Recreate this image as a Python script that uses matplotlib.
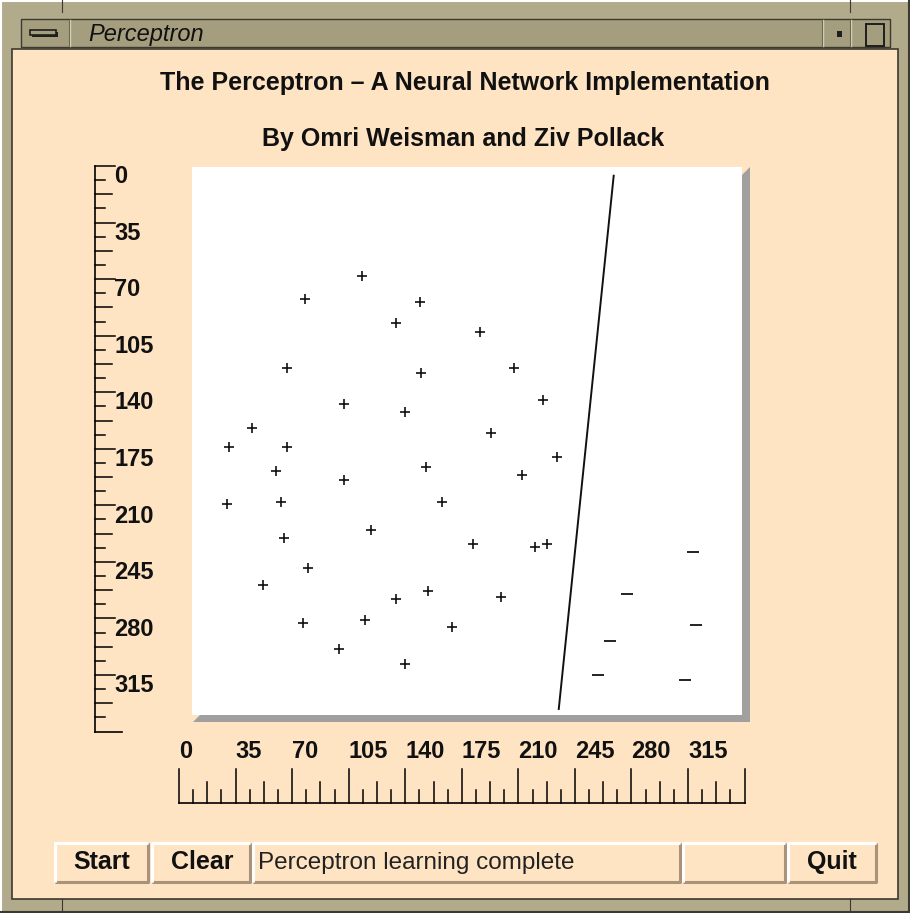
import matplotlib
matplotlib.use("Agg")
import matplotlib.pyplot as plt
from matplotlib.patches import Rectangle, Polygon

# --- data (ruler units, y grows downward like the canvas) ---
plus_x = [113, 78, 149, 134, 186, 67, 150, 207, 102, 140, 225, 45, 193,
          31, 67, 234, 60, 153, 102, 212, 30, 63, 163, 119, 65, 182, 220,
          228, 80, 52, 154, 134, 199, 77, 115, 169, 99, 140]
plus_y = [68, 82, 84, 97, 103, 125, 128, 125, 147, 152, 145, 162, 165,
          174, 174, 180, 189, 186, 194, 191, 209, 208, 208, 225, 230, 234,
          236, 234, 249, 259, 263, 268, 267, 283, 281, 285, 299, 308]
minus_x = [318, 277, 320, 267, 259, 313]
minus_y = [239, 265, 284, 294, 315, 318]
line_x = [269, 235]
line_y = [6, 336]

ruler_max = 350
major_step = 35
minor_step = 8.75
tick_labels = [str(v) for v in range(0, 350, 35)]

title = "The Perceptron \u2013 A Neural Network Implementation"
subtitle = "By Omri Weisman and Ziv Pollack"
window_title = "Perceptron"
status_text = "Perceptron learning complete"

PEACH = "#ffe4c4"
FRAME = "#b1aa8b"
TITLEBAR = "#a59e7e"
DARK = "#3c3a30"
SHADOW = "#a0a0a0"
BEVEL_DARK = "#a8927a"
INK = "#111111"
FONT = "Liberation Sans"

W, H = 910, 913
fig = plt.figure(figsize=(W / 100, H / 100), dpi=100, facecolor=FRAME)

# background axes in pixel coordinates for the window chrome
bg = fig.add_axes([0, 0, 1, 1])
bg.set_xlim(0, W)
bg.set_ylim(H, 0)
bg.axis("off")

# outer frame highlight / shadow
bg.plot([1, W - 1], [1, 1], color="white", lw=1.5)
bg.plot([1, 1], [1, H - 1], color="white", lw=1.5)
bg.plot([W - 1, W - 1], [1, H - 1], color=DARK, lw=1.5)
bg.plot([1, W - 1], [H - 1, H - 1], color=DARK, lw=1.5)
for xd in (62, 850):
    bg.plot([xd, xd], [0, 12], color=DARK, lw=0.8)
    bg.plot([xd, xd], [899, H], color=DARK, lw=0.8)

# title bar
bg.add_patch(Rectangle((21, 19), 869, 28, facecolor=TITLEBAR, edgecolor=DARK, lw=1))
for xd in (70, 823, 851):
    bg.plot([xd, xd], [20, 46], color="#d8d2b8", lw=1.0)
    bg.plot([xd - 1, xd - 1], [20, 46], color="#6e6850", lw=0.8)
bg.add_patch(Rectangle((32, 32), 26, 5, facecolor="#1e1e1e"))
bg.add_patch(Rectangle((30, 30), 26, 5, facecolor=TITLEBAR, edgecolor="#1e1e1e", lw=1.2))
bg.add_patch(Rectangle((837, 31), 5, 6, facecolor="#1e1e1e"))
bg.add_patch(Rectangle((866, 24), 18, 22, facecolor=TITLEBAR, edgecolor="#1e1e1e", lw=1.4))
bg.text(88, 34, window_title, fontsize=17, style="italic", family=FONT,
        ha="left", va="center", color=INK)

# client area
bg.add_patch(Rectangle((12, 49), 886, 850, facecolor=PEACH, edgecolor=DARK, lw=1.2))

bg.text(465, 83, title, fontsize=18, weight="bold", family=FONT,
        ha="center", va="center", color=INK)
bg.text(463, 139, subtitle, fontsize=18, weight="bold", family=FONT,
        ha="center", va="center", color=INK)


def bevel(x0, y0, x1, y1):
    bg.add_patch(Rectangle((x0, y0), x1 - x0, y1 - y0, facecolor=PEACH, lw=0))
    bg.plot([x0, x1, x1], [y1, y1, y0], color=BEVEL_DARK, lw=2.2, solid_capstyle="butt")
    bg.plot([x0, x0, x1], [y1, y0, y0], color="white", lw=2.2, solid_capstyle="butt")


bevel(55, 843, 148, 882)
bevel(152, 843, 250, 882)
bevel(253, 843, 680, 882)
bevel(683, 843, 785, 882)
bevel(788, 843, 876, 882)
btn_font = dict(fontsize=18, weight="bold", family=FONT, va="center", color=INK)
bg.text(102, 862, "Start", ha="center", **btn_font)
bg.text(202, 862, "Clear", ha="center", **btn_font)
bg.text(832, 862, "Quit", ha="center", **btn_font)
bg.text(258, 863, status_text, fontsize=17.5, family=FONT,
        ha="left", va="center", color="#222222")

# plot axes: ruler units mapped onto the canvas
px0, py0, scale = 179, 166, 1.616
ax = fig.add_axes([px0 / W, 1 - (py0 + ruler_max * scale) / H,
                   ruler_max * scale / W, ruler_max * scale / H])
ax.set_xlim(0, ruler_max)
ax.set_ylim(ruler_max, 0)
ax.axis("off")


def u(px, origin):
    return (px - origin) / scale


# canvas with 3d shadow
ax.add_patch(Polygon([(u(742, px0), u(175, py0)), (u(750, px0), u(167, py0)),
                      (u(750, px0), u(722, py0)), (u(193, px0), u(722, py0)),
                      (u(200, px0), u(715, py0)), (u(742, px0), u(715, py0))],
                     closed=True, facecolor=SHADOW, lw=0, clip_on=False))
ax.add_patch(Rectangle((u(192, px0), u(167, py0)), u(742, px0) - u(192, px0),
                       u(715, py0) - u(167, py0), facecolor="white", lw=0, clip_on=False))

ax.plot(plus_x, plus_y, linestyle="none", marker="+", markersize=7.5, mew=1.2,
        color=INK, clip_on=False)
ax.plot(minus_x, minus_y, linestyle="none", marker="_", markersize=8, mew=1.3,
        color=INK, clip_on=False)
ax.plot(line_x, line_y, color=INK, lw=1.4, clip_on=False)

# rulers
n_ticks = int(ruler_max / minor_step) + 1
vx0 = u(95, px0)
ax.plot([vx0, vx0], [0, ruler_max], color="black", lw=1.2, clip_on=False)
ax.plot([vx0, u(122, px0)], [ruler_max, ruler_max], color="black", lw=1.2, clip_on=False)
hy0 = u(803, py0)
ax.plot([0, ruler_max], [hy0, hy0], color="black", lw=1.2, clip_on=False)
for i in range(n_ticks):
    v = i * minor_step
    if i % 4 == 0:
        ylen, xlen = 115, 769
    elif i % 4 == 2:
        ylen, xlen = 112, 782
    else:
        ylen, xlen = 105, 790
    if v < ruler_max:
        ax.plot([vx0, u(ylen, px0)], [v, v], color="black", lw=1.1, clip_on=False)
    ax.plot([v, v], [hy0, u(xlen, py0)], color="black", lw=1.1, clip_on=False)

lab_font = dict(fontsize=17, weight="bold", family=FONT, color=INK)
for k, lab in enumerate(tick_labels):
    v = k * major_step
    ax.text(u(114, px0), v - 0.5, lab, ha="left", va="top", clip_on=False, **lab_font)
    ax.text(v, u(763, py0), lab, ha="left", va="bottom", clip_on=False, **lab_font)

fig.savefig("out.png", dpi=100, facecolor=FRAME)
